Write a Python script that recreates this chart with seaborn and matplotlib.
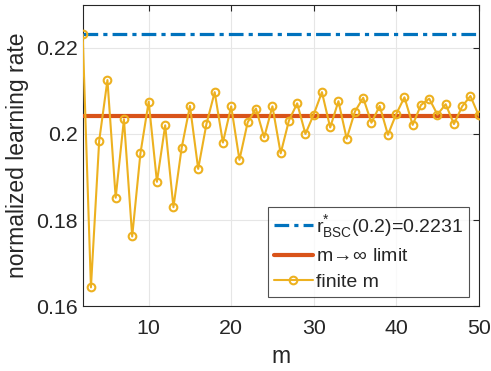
import numpy as np
import pandas as pd
import matplotlib
matplotlib.use("Agg")
import matplotlib.pyplot as plt
import seaborn as sns

# ---- data ----
m_values = list(range(2, 51))
finite_rate = [0.2231, 0.1644, 0.1984, 0.2125, 0.1852, 0.2034, 0.1762, 0.1955,
               0.2075, 0.1889, 0.2020, 0.1830, 0.1968, 0.2065, 0.1919, 0.2023,
               0.2097, 0.1980, 0.2064, 0.1940, 0.2027, 0.2059, 0.1992, 0.2064,
               0.1955, 0.2031, 0.2071, 0.2000, 0.2045, 0.2097, 0.2015, 0.2076,
               0.1989, 0.2052, 0.2084, 0.2026, 0.2065, 0.1998, 0.2046, 0.2085,
               0.2021, 0.2067, 0.2082, 0.2045, 0.2069, 0.2023, 0.2064, 0.2088,
               0.2043]
r_bsc = 0.2231
limit_rate = 0.2042

y_ticks = [0.16, 0.18, 0.2, 0.22]
y_tick_labels = ["0.16", "0.18", "0.2", "0.22"]
x_ticks = [10, 20, 30, 40, 50]

df = pd.DataFrame({"m": m_values, "rate": finite_rate})

sns.set_style("white")
plt.rcParams["font.family"] = ["Liberation Sans", "DejaVu Sans"]
plt.rcParams["mathtext.fontset"] = "custom"
plt.rcParams["mathtext.rm"] = "Liberation Sans"
plt.rcParams["mathtext.it"] = "Liberation Sans"

blue = "#0072BD"
orange = "#D95319"
yellow = "#EDB120"
ink = "#262626"

fig = plt.figure(figsize=(4.91, 3.71), dpi=100)
ax = fig.add_axes([0.1684, 0.1744, 0.8065, 0.813])

ax.axhline(r_bsc, color=blue, lw=2.3, dashes=(4.6, 1.6, 1.3, 1.6),
           label=r"r$^{*}_{\mathrm{BSC}}$(0.2)=0.2231", zorder=3)
ax.axhline(limit_rate, color=orange, lw=3.0,
           label=r"m$\!\rightarrow\!\infty$ limit", zorder=3)
sns.lineplot(data=df, x="m", y="rate", ax=ax, color=yellow, lw=1.5,
             marker="o", markersize=5.5, markerfacecolor="none",
             markeredgecolor=yellow, markeredgewidth=1.5,
             label="finite m", zorder=4)

ax.set_xlim(2, 50)
ax.set_ylim(0.16, 0.23)
ax.set_xticks(x_ticks)
ax.set_yticks(y_ticks)
ax.set_yticklabels(y_tick_labels)
ax.tick_params(direction="in", length=4, width=0.8, labelsize=15.4,
               colors=ink, top=True, right=True)
ax.tick_params(axis="x", pad=9)
ax.grid(True, color="#e6e6e6", lw=0.8)
for s in ax.spines.values():
    s.set_color(ink)
    s.set_linewidth(0.8)

ax.set_xlabel("m", fontsize=16.5, color=ink, labelpad=5)
ax.set_ylabel("normalized learning rate", fontsize=16.5, color=ink, labelpad=5)

leg = ax.legend(loc="lower right", fontsize=14, frameon=True, fancybox=False,
                edgecolor=ink, handlelength=2.0, handletextpad=0.15,
                borderpad=0.3, labelspacing=0.4, borderaxespad=0.5)
leg.get_frame().set_linewidth(0.8)
for t in leg.get_texts():
    t.set_color(ink)

fig.savefig("out.png", dpi=100)
